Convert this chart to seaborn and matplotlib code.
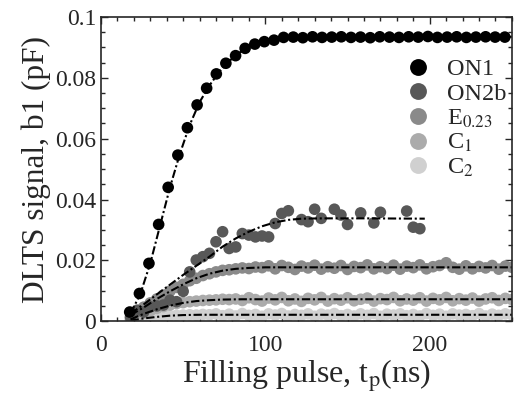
#!/usr/bin/env python3

import matplotlib.pyplot as plt
import matplotlib.ticker as mticker
import numpy as np
import pandas as pd
import seaborn as sns

sns.set_style('ticks')
plt.rcParams['font.family'] = ['Liberation Serif', 'DejaVu Serif']
plt.rcParams['mathtext.fontset'] = 'stix'

# --- measured points ---
tp_on1 = [17.5, 23.4, 29.2, 35.1, 40.9, 46.8, 52.6, 58.5, 64.3, 70.2,
          76.0, 81.9, 87.7, 93.6, 99.4, 105.3, 111.1, 117.0, 122.8, 128.7,
          134.5, 140.4, 146.2, 152.1, 157.9, 163.8, 169.6, 175.5, 181.3, 187.2,
          193.0, 198.9, 204.7, 210.6, 216.4, 222.3, 228.1, 234.0, 239.8, 245.7]
on1 = [.0030, .0091, .0190, .0318, .0440, .0546, .0636, .0711, .0766, .0813,
       .0848, .0873, .0897, .0911, .0919, .0924, .0933, .0934, .0932, .0935,
       .0933, .0934, .0935, .0933, .0934, .0932, .0935, .0934, .0933, .0935,
       .0934, .0936, .0933, .0934, .0935, .0933, .0934, .0935, .0934, .0934]

tp_on2b = [18, 22, 26, 30, 34, 38, 42, 46, 50, 54, 58, 62, 66, 70, 74, 78,
           82, 86, 90, 94, 98, 102, 106, 110, 114, 122, 126, 130, 134, 142,
           146, 150, 158, 166, 170, 186, 190, 194]
on2b = [.0014, .0036, .0030, .0047, .0050, .0053, .0069, .0064, .0098, .0162,
        .0201, .0212, .0223, .0261, .0294, .0239, .0244, .0288, .0283, .0277,
        .0280, .0277, .0321, .0354, .0363, .0334, .0327, .0368, .0338, .0368,
        .0349, .0318, .0356, .0323, .0358, .0362, .0309, .0304]

tp_fine = [18, 22, 26, 30, 34, 38, 42, 46, 50, 54, 58, 62, 66, 70, 74, 78,
           82, 86, 90, 94, 98, 102, 106, 110, 114, 118, 122, 126, 130, 134,
           138, 142, 146, 150, 154, 158, 162, 166, 170, 174, 178, 182, 186,
           190, 194, 198, 202, 206, 210, 214, 218, 222, 226, 230, 234, 238,
           242, 246, 250]
e023 = [.0010, .0030, .0046, .0060, .0073, .0086, .0099, .0111, .0121, .0133,
        .0141, .0150, .0156, .0162, .0167, .0169, .0172, .0175, .0173, .0178,
        .0176, .0182, .0172, .0183, .0177, .0170, .0181, .0175, .0184, .0171,
        .0179, .0174, .0183, .0170, .0180, .0176, .0185, .0172, .0179, .0173,
        .0184, .0171, .0181, .0176, .0185, .0172, .0179, .0183, .0192, .0177,
        .0171, .0182, .0172, .0180, .0175, .0183, .0171, .0181, .0177]
c1 = [.0004, .0015, .0026, .0034, .0042, .0048, .0053, .0058, .0061, .0064,
      .0066, .0068, .0069, .0070, .0072, .0071, .0073, .0068, .0077, .0071,
      .0066, .0076, .0070, .0078, .0067, .0073, .0065, .0075, .0070, .0078,
      .0066, .0074, .0069, .0077, .0067, .0072, .0076, .0066, .0074, .0071,
      .0078, .0067, .0073, .0069, .0077, .0066, .0075, .0070, .0078, .0067,
      .0074, .0069, .0076, .0066, .0073, .0077, .0068, .0075, .0071]
c2 = [.0000, .0005, .0009, .0012, .0015, .0017, .0018, .0019, .0020, .0021,
      .0020, .0022, .0021, .0024, .0018, .0023, .0017, .0025, .0019, .0022,
      .0016, .0024, .0020, .0025, .0017, .0022, .0019, .0024, .0016, .0023,
      .0020, .0025, .0018, .0022, .0017, .0024, .0019, .0025, .0016, .0023,
      .0020, .0024, .0018, .0022, .0017, .0025, .0019, .0023, .0016, .0024,
      .0020, .0022, .0018, .0025, .0017, .0023, .0019, .0024, .0021]

# --- fitted curves ---
fit_on1_t = [18, 24, 30, 36, 42, 48, 54, 60, 66, 72, 78, 84, 90, 96, 102,
             110, 120, 135, 160, 200, 250]
fit_on1 = [.0025, .0090, .0190, .0315, .0440, .0550, .0645, .0720, .0775,
           .0820, .0855, .0882, .0900, .0913, .0921, .0928, .0932, .0934,
           .0935, .0935, .0935]
fit_on2b_t = [18, 26, 34, 42, 50, 58, 66, 74, 82, 90, 98, 106, 114, 122, 135,
              160, 197]
fit_on2b = [.0025, .0055, .0088, .0120, .0152, .0182, .0212, .0245, .0272,
            .0294, .0312, .0325, .0333, .0337, .0338, .0338, .0337]
fit_e_t = [18, 26, 34, 42, 50, 58, 66, 74, 82, 90, 100, 120, 250]
fit_e = [.0020, .0045, .0073, .0098, .0121, .0141, .0156, .0166, .0172,
         .0175, .0177, .0177, .0177]
fit_c1_t = [18, 26, 34, 42, 50, 58, 66, 74, 86, 250]
fit_c1 = [.0006, .0024, .0039, .0051, .0060, .0066, .0069, .0071, .0072, .0072]
fit_c2_t = [18, 26, 34, 42, 50, 60, 250]
fit_c2 = [.0002, .0009, .0014, .0018, .0020, .0021, .0021]

levels = ['ON1', 'ON2b', 'E0.23', 'C1', 'C2']
labels = ['ON1', 'ON2b', r'E$_{0.23}$', r'C$_1$', r'C$_2$']
colors = {'ON1': '#000000', 'ON2b': '#585858', 'E0.23': '#8a8a8a',
          'C1': '#ababab', 'C2': '#d0d0d0'}

# points drawn lightest first so ON1 ends on top
pts = pd.concat([
    pd.DataFrame({'tp': tp_fine, 'b1': c2, 'level': 'C2'}),
    pd.DataFrame({'tp': tp_fine, 'b1': c1, 'level': 'C1'}),
    pd.DataFrame({'tp': tp_fine, 'b1': e023, 'level': 'E0.23'}),
    pd.DataFrame({'tp': tp_on2b, 'b1': on2b, 'level': 'ON2b'}),
    pd.DataFrame({'tp': tp_on1, 'b1': on1, 'level': 'ON1'}),
], ignore_index=True)

fits = pd.concat([
    pd.DataFrame({'tp': fit_on1_t, 'b1': fit_on1, 'level': 'ON1'}),
    pd.DataFrame({'tp': fit_on2b_t, 'b1': fit_on2b, 'level': 'ON2b'}),
    pd.DataFrame({'tp': fit_e_t, 'b1': fit_e, 'level': 'E0.23'}),
    pd.DataFrame({'tp': fit_c1_t, 'b1': fit_c1, 'level': 'C1'}),
    pd.DataFrame({'tp': fit_c2_t, 'b1': fit_c2, 'level': 'C2'}),
], ignore_index=True)

fig = plt.figure(figsize=(5.15, 3.96), dpi=100)
ax = fig.add_axes([0.196, 0.189, 0.798, 0.768])

sns.scatterplot(ax=ax, data=pts, x='tp', y='b1', hue='level',
                hue_order=levels, palette=colors, s=70, linewidth=0, alpha=1)
sns.lineplot(ax=ax, data=fits, x='tp', y='b1', units='level', estimator=None,
             color='k', lw=1.5, linestyle=(0, (4, 1.3, 1, 1.3)), legend=False)

ax.set_xlim(0, 250)
ax.set_ylim(0, 0.1)
ax.xaxis.set_major_locator(mticker.MultipleLocator(100))
ax.xaxis.set_minor_locator(mticker.MultipleLocator(10))
ax.yaxis.set_major_locator(mticker.MultipleLocator(0.02))
ax.yaxis.set_minor_locator(mticker.MultipleLocator(0.005))
ax.yaxis.set_major_formatter(mticker.FormatStrFormatter('%g'))
ax.tick_params(which='both', direction='in', top=True, right=True,
               labelsize=17, width=1)
ax.tick_params(axis='x', which='both', pad=10)
ax.tick_params(which='major', length=5)
ax.tick_params(which='minor', length=3)
for sp in ax.spines.values():
    sp.set_linewidth(1.2)

ax.set_xlabel(r'Filling pulse, t$_\mathrm{p}$(ns)', fontsize=23, labelpad=1)
ax.set_ylabel('DLTS signal, b1 (pF)', fontsize=22.5, labelpad=3)

handles, _ = ax.get_legend_handles_labels()
ax.legend(handles[:5], labels, loc='upper right', bbox_to_anchor=(1.028, 0.92),
          frameon=False, fontsize=17.5, labelspacing=0.1, handletextpad=0.6,
          handlelength=1.2, borderpad=0.2, markerscale=1.45)

plt.savefig('out.png', dpi=100)
